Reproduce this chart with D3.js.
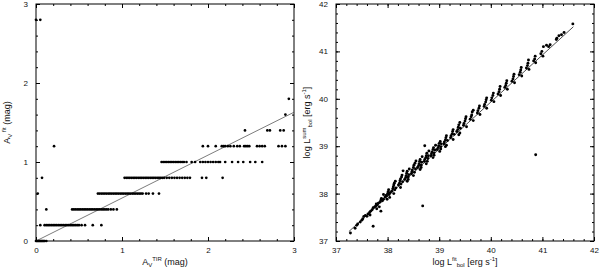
<!DOCTYPE html>
<meta charset="utf-8" />
<html>
<head>
<script src="https://d3js.org/d3.v7.min.js"></script>
<style>
  body { margin: 0; background: #fff; }
  text { font-family: "Liberation Sans", Arial, sans-serif; fill: #111; }
  .domain { stroke: #000; }
  .tick line { stroke: #000; }
</style>
</head>
<body>
<svg width="600" height="267"></svg>
<script>
// ---- left panel data: A_V fit (quantised in 0.2 steps) vs A_V TIR ----
var fitLevels = [0, 0.2, 0.4, 0.6, 0.8, 1.0, 1.2, 1.4, 1.6, 1.8, 2.8];
var tirByLevel = [
  [0.0, 0.01, 0.02, 0.03, 0.04, 0.05, 0.06, 0.07, 0.08, 0.09, 0.10, 0.12],
  [0.05, 0.10, 0.12, 0.14, 0.16, 0.18, 0.20, 0.22, 0.24, 0.26, 0.28, 0.30, 0.32, 0.34, 0.36, 0.38,
   0.40, 0.42, 0.44, 0.46, 0.48, 0.50, 0.53, 0.57, 0.66, 0.76],
  [0.12, 0.42, 0.44, 0.46, 0.48, 0.50, 0.52, 0.54, 0.56, 0.58, 0.60, 0.62, 0.64, 0.66, 0.68, 0.70,
   0.72, 0.74, 0.76, 0.78, 0.80, 0.82, 0.84, 0.87, 0.90, 0.94],
  [0.02, 0.72, 0.74, 0.76, 0.78, 0.80, 0.82, 0.84, 0.86, 0.88, 0.90, 0.92, 0.94, 0.96, 0.98, 1.00,
   1.02, 1.04, 1.06, 1.08, 1.10, 1.12, 1.14, 1.16, 1.18, 1.20, 1.22, 1.24, 1.28, 1.31, 1.36, 1.43],
  [0.07, 1.03, 1.05, 1.07, 1.09, 1.11, 1.13, 1.15, 1.17, 1.19, 1.21, 1.23, 1.25, 1.27, 1.29, 1.31,
   1.33, 1.35, 1.37, 1.39, 1.41, 1.43, 1.45, 1.47, 1.49, 1.52, 1.55, 1.58, 1.61, 1.64, 1.67, 1.70,
   1.73, 1.76, 1.79, 1.93, 1.98, 2.17],
  [1.46, 1.48, 1.50, 1.52, 1.54, 1.56, 1.58, 1.60, 1.62, 1.64, 1.66, 1.68, 1.70, 1.72, 1.75, 1.81,
   1.85, 1.91, 1.94, 1.97, 2.00, 2.03, 2.06, 2.09, 2.12, 2.14, 2.20, 2.28, 2.35, 2.41, 2.49, 2.55, 2.63],
  [0.21, 1.94, 2.00, 2.09, 2.16, 2.18, 2.20, 2.23, 2.26, 2.30, 2.34, 2.37, 2.42, 2.44, 2.46, 2.48,
   2.57, 2.60, 2.63, 2.66, 2.82, 2.86, 2.90],
  [2.43, 2.69, 2.72, 2.84, 2.88],
  [2.90],
  [2.94],
  [0.0, 0.05]
];
var avFitLine = [[0, 0], [3, 1.63]];

// ---- right panel data: log L_bol fit vs log L_bol sum ----
var lumOutliers = [
  [37.28, 37.17], [37.72, 37.31], [37.87, 37.63], [38.68, 37.74], [40.87, 38.82], [38.72, 39.01],
  [37.54, 37.52], [37.92, 37.98], [38.30, 38.48], [38.55, 38.69], [39.38, 39.24]
];
var lumPoints = [
  [37.37, 37.27], [37.40, 37.33], [37.42, 37.36], [37.47, 37.40], [37.50, 37.44], [37.52, 37.47],
  [37.57, 37.54], [37.60, 37.52], [37.62, 37.57], [37.65, 37.60], [37.67, 37.63], [37.66, 37.55],
  [37.70, 37.66], [37.72, 37.70], [37.75, 37.72], [37.77, 37.74], [37.78, 37.78], [37.80, 37.76],
  [37.82, 37.80], [37.85, 37.82], [37.87, 37.86], [37.88, 37.90], [37.90, 37.85], [37.92, 37.88],
  [37.95, 37.93], [37.97, 37.96], [37.84, 37.72], [37.79, 37.68],
  [37.98, 37.95], [38.00, 38.00], [38.01, 38.04], [38.02, 38.08], [38.03, 37.98], [38.05, 38.02], [38.04, 37.92], [37.99, 37.88],
  [38.08, 38.05], [38.10, 38.10], [38.11, 38.14], [38.12, 38.18], [38.13, 38.22], [38.14, 38.08], [38.16, 38.12], [38.12, 38.00], [38.15, 38.26],
  [38.21, 38.18], [38.23, 38.22], [38.24, 38.27], [38.25, 38.31], [38.26, 38.20], [38.27, 38.35], [38.29, 38.25], [38.25, 38.13], [38.28, 38.39],
  [38.33, 38.30], [38.35, 38.34], [38.36, 38.38], [38.37, 38.43], [38.38, 38.47], [38.40, 38.35], [38.41, 38.40], [38.42, 38.52], [38.38, 38.26], [38.40, 38.30],
  [38.46, 38.42], [38.47, 38.46], [38.48, 38.50], [38.50, 38.55], [38.51, 38.60], [38.52, 38.45], [38.54, 38.52], [38.50, 38.38], [38.53, 38.64],
  [38.58, 38.55], [38.60, 38.59], [38.61, 38.63], [38.62, 38.68], [38.63, 38.72], [38.65, 38.60], [38.66, 38.66], [38.67, 38.78], [38.63, 38.51], [38.65, 38.55],
  [38.71, 38.68], [38.72, 38.72], [38.74, 38.76], [38.75, 38.80], [38.76, 38.85], [38.78, 38.74], [38.79, 38.80], [38.80, 38.90], [38.75, 38.63], [38.77, 38.68],
  [38.84, 38.80], [38.85, 38.84], [38.86, 38.88], [38.88, 38.93], [38.89, 38.97], [38.90, 38.86], [38.92, 38.92], [38.93, 39.02], [38.88, 38.76], [38.90, 38.81],
  [38.96, 38.93], [38.98, 38.97], [38.99, 39.01], [39.00, 39.06], [39.02, 39.10], [39.03, 38.99], [39.04, 39.05], [39.01, 38.89], [39.03, 38.94],
  [39.09, 39.05], [39.10, 39.09], [39.12, 39.13], [39.13, 39.18], [39.14, 39.22], [39.16, 39.12], [39.14, 39.02], [39.12, 38.99],
  [39.22, 39.18], [39.23, 39.22], [39.25, 39.26], [39.26, 39.31], [39.27, 39.35], [39.29, 39.25], [39.27, 39.14],
  [39.34, 39.31], [39.36, 39.35], [39.37, 39.40], [39.38, 39.45], [39.40, 39.50], [39.41, 39.38], [39.40, 39.28],
  [39.47, 39.44], [39.48, 39.48], [39.50, 39.53], [39.51, 39.58], [39.52, 39.62], [39.53, 39.41],
  [39.60, 39.57], [39.62, 39.62], [39.63, 39.66], [39.64, 39.72], [39.66, 39.76], [39.66, 39.54],
  [39.74, 39.70], [39.75, 39.75], [39.77, 39.80], [39.78, 39.85], [39.79, 39.67],
  [39.87, 39.84], [39.88, 39.88], [39.90, 39.93], [39.91, 39.98], [39.92, 40.02], [39.92, 39.80],
  [40.01, 39.97], [40.02, 40.02], [40.04, 40.07], [40.05, 40.12], [40.06, 39.94],
  [40.14, 40.10], [40.16, 40.15], [40.17, 40.20], [40.18, 40.26], [40.19, 40.07],
  [40.27, 40.24], [40.29, 40.28], [40.30, 40.33], [40.31, 40.38], [40.32, 40.20],
  [40.41, 40.37], [40.43, 40.42], [40.44, 40.47], [40.45, 40.52], [40.46, 40.34],
  [40.55, 40.51], [40.57, 40.56], [40.58, 40.61], [40.59, 40.66], [40.60, 40.48],
  [40.69, 40.65], [40.71, 40.70], [40.72, 40.75], [40.73, 40.82], [40.74, 40.62],
  [40.83, 40.80], [40.85, 40.84], [40.86, 40.90], [40.87, 40.76],
  [40.97, 40.95], [40.99, 41.00], [41.02, 41.10], [41.08, 41.13], [41.01, 40.90],
  [41.12, 41.10], [41.15, 41.14], [41.27, 41.25], [41.28, 41.28], [41.32, 41.33], [41.37, 41.35],
  [41.42, 41.40], [41.59, 41.58]
];
var lumFitLine = [[37.25, 37.2], [41.6, 41.52]];

var svg = d3.select("svg");

function drawPanel(o) {
  var x = d3.scaleLinear().domain(o.xd).range([o.left, o.right]);
  var y = d3.scaleLinear().domain(o.yd).range([o.bottom, o.top]);
  var g = svg.append("g");
  var w = o.right - o.left, h = o.bottom - o.top;
  var majorX = d3.range(o.xd[0], o.xd[1] + 0.001, 1);
  var majorY = d3.range(o.yd[0], o.yd[1] + 0.001, 1);
  var minorX = d3.range(o.xd[0], o.xd[1] + 0.001, 0.2);
  var minorY = d3.range(o.yd[0], o.yd[1] + 0.001, 0.2);

  // minor ticks, all four sides, pointing inward
  g.append("g").attr("transform", "translate(0," + o.bottom + ")")
    .call(d3.axisBottom(x).tickValues(minorX).tickSize(-2).tickFormat(""));
  g.append("g").attr("transform", "translate(0," + o.top + ")")
    .call(d3.axisTop(x).tickValues(minorX).tickSize(-2).tickFormat(""));
  g.append("g").attr("transform", "translate(" + o.left + ",0)")
    .call(d3.axisLeft(y).tickValues(minorY).tickSize(-2).tickFormat(""));
  g.append("g").attr("transform", "translate(" + o.right + ",0)")
    .call(d3.axisRight(y).tickValues(minorY).tickSize(-2).tickFormat(""));

  // major ticks with labels
  g.append("g").attr("transform", "translate(0," + o.bottom + ")")
    .call(d3.axisBottom(x).tickValues(majorX).tickSize(-4).tickPadding(6).tickFormat(d3.format("d")));
  g.append("g").attr("transform", "translate(0," + o.top + ")")
    .call(d3.axisTop(x).tickValues(majorX).tickSize(-4).tickFormat(""));
  g.append("g").attr("transform", "translate(" + o.left + ",0)")
    .call(d3.axisLeft(y).tickValues(majorY).tickSize(-4).tickPadding(8).tickFormat(d3.format("d")));
  g.append("g").attr("transform", "translate(" + o.right + ",0)")
    .call(d3.axisRight(y).tickValues(majorY).tickSize(-4).tickFormat(""));
  g.selectAll(".tick text").attr("font-size", 8).attr("font-family", null);
  g.selectAll(".domain").remove();

  g.append("rect").attr("x", o.left).attr("y", o.top).attr("width", w).attr("height", h)
    .attr("fill", "none").attr("stroke", "#000").attr("stroke-width", 1);

  // fit line
  g.append("path").datum(o.line)
    .attr("d", d3.line().x(function(d) { return x(d[0]); }).y(function(d) { return y(d[1]); }))
    .attr("fill", "none").attr("stroke", o.lineColor).attr("stroke-width", 0.7);

  g.selectAll("circle.pt").data(o.points).enter().append("circle")
    .attr("class", "pt")
    .attr("cx", function(d) { return x(d[0]); })
    .attr("cy", function(d) { return y(d[1]); })
    .attr("r", o.r).attr("fill", "#000");

  // axis titles
  var xt = g.append("text").attr("x", (o.left + o.right) / 2).attr("y", 265)
    .attr("text-anchor", "middle").attr("font-size", 9);
  o.xTitle(xt);
  var yt = g.append("text")
    .attr("transform", "translate(" + o.yTitleX + "," + ((o.top + o.bottom) / 2) + ") rotate(-90)")
    .attr("text-anchor", "middle").attr("font-size", 9);
  o.yTitle(yt);
}

var leftPts = [];
fitLevels.forEach(function(lv, i) {
  tirByLevel[i].forEach(function(t) { leftPts.push([t, lv]); });
});

drawPanel({
  left: 36, right: 294, top: 4, bottom: 241,
  xd: [0, 3], yd: [0, 3], r: 1.35,
  points: leftPts, line: avFitLine, lineColor: "#444",
  yTitleX: 10,
  xTitle: function(t) {
    t.append("tspan").text("A");
    t.append("tspan").attr("font-size", 6).attr("dy", 2).text("V");
    t.append("tspan").attr("font-size", 6).attr("dy", -6).text("TIR");
    t.append("tspan").attr("dy", 4).text(" (mag)");
  },
  yTitle: function(t) {
    t.append("tspan").text("A");
    t.append("tspan").attr("font-size", 6).attr("dy", 2).text("V");
    t.append("tspan").attr("font-size", 6).attr("dy", -6).text(" fit");
    t.append("tspan").attr("dy", 4).text(" (mag)");
  }
});

drawPanel({
  left: 336, right: 594, top: 4, bottom: 241,
  xd: [37, 42], yd: [37, 42], r: 1.45,
  points: lumPoints.concat(lumOutliers), line: lumFitLine, lineColor: "#000",
  yTitleX: 310,
  xTitle: function(t) {
    t.append("tspan").text("log L");
    t.append("tspan").attr("font-size", 6).attr("dy", -4).text("fit");
    t.append("tspan").attr("font-size", 6).attr("dy", 6).text("bol");
    t.append("tspan").attr("dy", -2).text(" [erg s");
    t.append("tspan").attr("font-size", 6).attr("dy", -4).text("-1");
    t.append("tspan").attr("dy", 4).text("]");
  },
  yTitle: function(t) {
    t.append("tspan").text("log L");
    t.append("tspan").attr("font-size", 6).attr("dy", -4).text("sum");
    t.append("tspan").attr("font-size", 6).attr("dy", 6).text("bol");
    t.append("tspan").attr("dy", -2).text(" [erg s");
    t.append("tspan").attr("font-size", 6).attr("dy", -4).text("-1");
    t.append("tspan").attr("dy", 4).text("]");
  }
});
</script>
</body>
</html>
